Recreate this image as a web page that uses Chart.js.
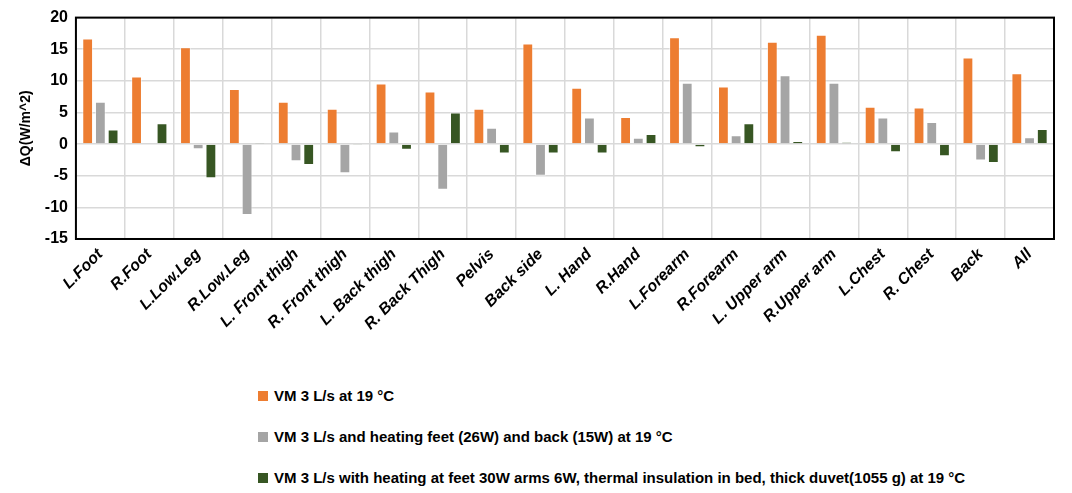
<!DOCTYPE html>
<html>
<head>
<meta charset="utf-8">
<script src="https://cdn.jsdelivr.net/npm/chart.js@4"></script>
<style>
  body { margin: 0; background: #fff; font-family: "Liberation Sans", Arial, sans-serif; }
  #wrap { position: relative; width: 1072px; height: 340px; }
  #legend { position: absolute; left: 258px; top: 387px; font-size: 15px; font-weight: bold; color: #000; }
  #legend div { height: 41px; display: flex; align-items: flex-start; }
  #legend span { display: inline-block; width: 10px; height: 10px; margin: 4px 6px 0 0; }
</style>
</head>
<body>
<div id="wrap"><canvas id="c"></canvas></div>
<div id="legend"></div>
<script>
const categories = ["L.Foot", "R.Foot", "L.Low.Leg", "R.Low.Leg", "L. Front thigh", "R. Front thigh",
  "L. Back thigh", "R. Back Thigh", "Pelvis", "Back side", "L. Hand", "R.Hand", "L.Forearm",
  "R.Forearm", "L. Upper arm", "R.Upper arm", "L.Chest", "R. Chest", "Back", "All"];
const vm3 = [16.7, 10.7, 15.3, 8.7, 6.7, 5.6, 9.6, 8.3, 5.6, 15.9, 8.9, 4.3, 16.9, 9.1, 16.2, 17.3, 5.9, 5.8, 13.7, 11.2];
const vmHeat = [6.7, 0, -0.8, -11.2, -2.7, -4.6, 2.0, -7.2, 2.6, -5.0, 4.2, 1.0, 9.7, 1.4, 10.9, 9.7, 4.2, 3.5, -2.6, 1.1];
const vmDuvet = [2.3, 3.3, -5.4, 0.2, -3.3, -0.2, -0.9, 5.0, -1.5, -1.5, -1.5, 1.6, -0.5, 3.3, 0.5, 0.3, -1.3, -1.9, -3.0, 2.4];
const seriesNames = ["VM 3 L/s at 19 °C",
  "VM 3 L/s and heating feet (26W) and back (15W) at 19 °C",
  "VM 3 L/s with heating at feet 30W arms 6W, thermal insulation in bed, thick duvet(1055 g) at 19 °C"];
const colors = ["#ED7D31", "#A5A5A5", "#375623"];
const yTicks = [-15, -10, -5, 0, 5, 10, 15, 20];

const border = {
  id: "border",
  afterDraw(chart) {
    const { ctx, chartArea: a } = chart;
    ctx.save();
    ctx.strokeStyle = "#000";
    ctx.lineWidth = 2;
    ctx.strokeRect(a.left, a.top, a.right - a.left, a.bottom - a.top);
    ctx.restore();
  }
};

new Chart(document.getElementById("c"), {
  type: "bar",
  data: {
    labels: categories,
    datasets: [vm3, vmHeat, vmDuvet].map((d, i) => ({
      label: seriesNames[i], data: d, backgroundColor: colors[i],
      borderColor: "rgba(255,255,255,0.5)", borderWidth: 1
    }))
  },
  options: {
    responsive: true, maintainAspectRatio: false, animation: false,
    layout: { padding: { left: 16, right: 18, top: 10 } },
    datasets: { bar: { categoryPercentage: 0.78, barPercentage: 0.85 } },
    plugins: { legend: { display: false }, tooltip: { enabled: false } },
    scales: {
      x: {
        grid: { color: "#d9d9d9", lineWidth: 1.5, offset: true, drawTicks: false },
        border: { display: false },
        ticks: { color: "#000", maxRotation: 45, minRotation: 45, padding: 6,
          font: { family: "Liberation Sans", size: 16, weight: "bold", style: "italic" } }
      },
      y: {
        min: -15, max: 20,
        afterBuildTicks: s => { s.ticks = yTicks.map(v => ({ value: v })); },
        grid: { color: "#d9d9d9", lineWidth: 1.5, drawTicks: false },
        border: { display: false },
        ticks: { color: "#000", padding: 8, font: { family: "Liberation Sans", size: 16, weight: "bold" } },
        title: { display: true, text: "ΔQ(W/m^2)", color: "#000", padding: 2,
          font: { family: "Liberation Sans", size: 14, weight: "bold" } }
      }
    }
  },
  plugins: [border]
});

const legend = document.getElementById("legend");
seriesNames.forEach((n, i) => {
  const row = document.createElement("div");
  row.innerHTML = `<span style="background:${colors[i]}"></span>${n}`;
  legend.appendChild(row);
});
</script>
</body>
</html>
